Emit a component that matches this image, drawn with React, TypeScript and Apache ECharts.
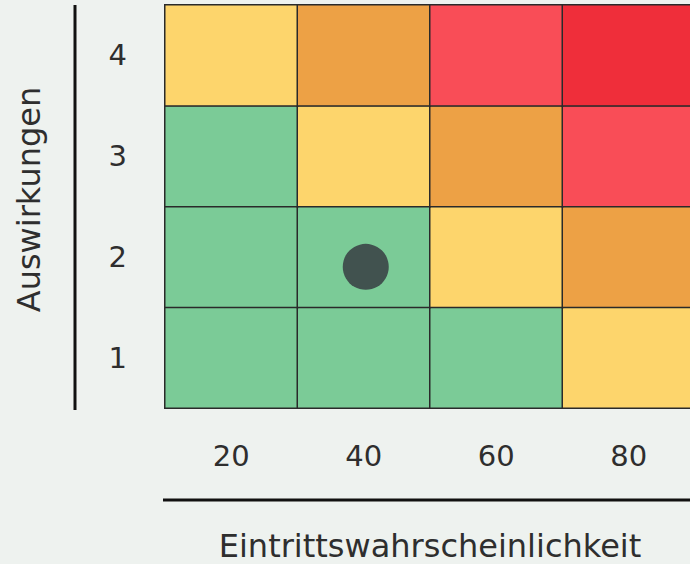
import React, { useEffect, useRef } from "react";
import * as echarts from "echarts";

const xCategories = ["20", "40", "60", "80"];
const yCategories = ["1", "2", "3", "4"];
// risk level per row (y = 1..4), columns x = 20..80
const riskRow1 = [0, 1, 2, 3];
const riskRow2 = [1, 2, 3, 4];
const riskRow3 = [2, 3, 4, 5];
const riskRow4 = [3, 4, 5, 6];
const riskRows = [riskRow1, riskRow2, riskRow3, riskRow4];
const markerPoint = ["40", "2"];
const xTitle = "Eintrittswahrscheinlichkeit";
const yTitle = "Auswirkungen";

export default function App() {
  const ref = useRef<HTMLDivElement>(null);
  useEffect(() => {
    if (!ref.current) return;
    const chart = echarts.init(ref.current, null, { renderer: "svg" });
    const heatData: any[] = [];
    riskRows.forEach((row, yi) => {
      row.forEach((v, xi) => heatData.push([xi, yi, v]));
    });
    const font = "DejaVu Sans";
    chart.setOption({
      animation: false,
      backgroundColor: "#EEF2EF",
      grid: {
        left: 165,
        top: 5,
        width: 530,
        height: 403,
        containLabel: false,
        outerBoundsMode: "none",
      },
      xAxis: {
        type: "category",
        data: xCategories,
        axisLine: { show: false },
        axisTick: { show: false },
        splitLine: { show: false },
        axisLabel: { margin: 33, fontSize: 29, color: "#2e2e2e", fontFamily: font },
        name: xTitle,
        nameLocation: "middle",
        nameGap: 122,
        nameTextStyle: { fontSize: 32, color: "#2e2e2e", fontFamily: font },
      },
      yAxis: {
        type: "category",
        data: yCategories,
        axisLine: { show: false },
        axisTick: { show: false },
        splitLine: { show: false },
        axisLabel: { margin: 38, fontSize: 29, color: "#2e2e2e", fontFamily: font },
        name: yTitle,
        nameLocation: "middle",
        nameGap: 120,
        nameRotate: 90,
        nameTextStyle: {
          fontSize: 32,
          color: "#2e2e2e",
          fontFamily: font,
          padding: [0, 0, 0, 14],
        },
      },
      visualMap: {
        show: false,
        type: "piecewise",
        dimension: 2,
        seriesIndex: 0,
        pieces: [
          { min: 0, max: 2, color: "#7BCB97" },
          { min: 3, max: 3, color: "#FDD56C" },
          { min: 4, max: 4, color: "#EDA145" },
          { min: 5, max: 5, color: "#F94D57" },
          { min: 6, max: 6, color: "#EF2E3A" },
        ],
      },
      series: [
        {
          type: "heatmap",
          data: heatData,
          itemStyle: { borderColor: "#2a2a2a", borderWidth: 1.5 },
          label: { show: false },
          emphasis: { disabled: true },
        },
        {
          type: "scatter",
          data: [markerPoint],
          symbol: "circle",
          symbolSize: 46,
          symbolOffset: [2, 10],
          itemStyle: { color: "#41524F", opacity: 1 },
          z: 10,
        },
      ],
      graphic: [
        {
          type: "line",
          shape: { x1: 75, y1: 5, x2: 75, y2: 410 },
          style: { stroke: "#111", lineWidth: 3 },
        },
        {
          type: "line",
          shape: { x1: 163, y1: 500, x2: 690, y2: 500 },
          style: { stroke: "#111", lineWidth: 3 },
        },
      ],
    });
    return () => chart.dispose();
  }, []);
  return (
    <div
      ref={ref}
      style={{ position: "absolute", left: 0, top: 0, width: 690, height: 564 }}
    />
  );
}
